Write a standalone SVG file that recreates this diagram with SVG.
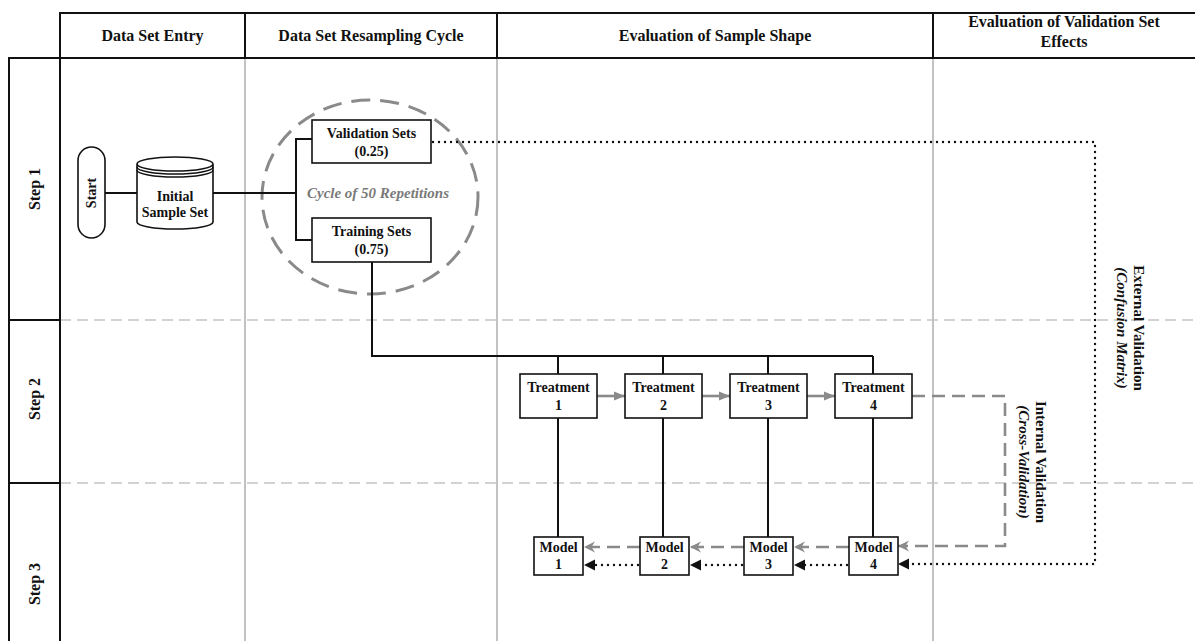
<svg xmlns="http://www.w3.org/2000/svg" width="1195" height="641" viewBox="0 0 1195 641">
<style>
.hdr{font-family:"Liberation Serif",serif;font-weight:bold;font-size:16px;text-anchor:middle;fill:#111}
.t{font-family:"Liberation Serif",serif;font-weight:bold;font-size:14px;text-anchor:middle;fill:#111}
.step{font-family:"Liberation Serif",serif;font-weight:bold;font-size:16px;text-anchor:middle;fill:#111}
.side{font-family:"Liberation Serif",serif;font-weight:bold;font-size:15px;text-anchor:middle;fill:#111}
.it{font-style:italic}
.box{fill:#fff;stroke:#111;stroke-width:1.6}
.frame{stroke:#111;stroke-width:2;fill:none}
.col{stroke:#b3b3b3;stroke-width:1.6}
.row{stroke:#c4c4c4;stroke-width:1.4;stroke-dasharray:11 6}
.line{stroke:#111;stroke-width:2;fill:none}
.garrow{stroke:#8a8a8a;stroke-width:2.6;fill:none}
.gdash{stroke:#8a8a8a;stroke-width:2.6;fill:none;stroke-dasharray:13 7}
.dot{stroke:#111;stroke-width:2.4;fill:none;stroke-dasharray:0 6;stroke-linecap:round}
</style>
<defs>
<marker id="gTri" markerUnits="userSpaceOnUse" markerWidth="12" markerHeight="10" refX="11" refY="5" orient="auto"><path d="M0,0.5 L11,5 L0,9.5 z" fill="#8a8a8a"/></marker>
<marker id="gOpen" markerUnits="userSpaceOnUse" markerWidth="12" markerHeight="12" refX="11" refY="6" orient="auto"><path d="M0,0.5 L11,6 L0,11.5 L3.5,6 z" fill="#8a8a8a"/></marker>
<marker id="bTri" markerUnits="userSpaceOnUse" markerWidth="12" markerHeight="12" refX="11" refY="6" orient="auto"><path d="M0,0.5 L11,6 L0,11.5 z" fill="#111"/></marker>
</defs>
<rect width="1195" height="641" fill="#fff"/>

<g id="grid">
<line class="col" x1="245" y1="58" x2="245" y2="641"/>
<line class="col" x1="497" y1="58" x2="497" y2="641"/>
<line class="col" x1="933" y1="58" x2="933" y2="641"/>
<line class="row" x1="60" y1="320" x2="1195" y2="320"/>
<line class="row" x1="60" y1="483" x2="1195" y2="483"/>
</g>

<g id="header">
<path class="frame" d="M1195,13 H60 V58 H1195 M245,13 V58 M497,13 V58 M933,13 V58"/>
<text class="hdr" x="152.5" y="41">Data Set Entry</text>
<text class="hdr" x="371" y="41">Data Set Resampling Cycle</text>
<text class="hdr" x="715" y="41">Evaluation of Sample Shape</text>
<text class="hdr" x="1064" y="27">Evaluation of Validation Set</text>
<text class="hdr" x="1064" y="47">Effects</text>
</g>

<g id="steps">
<path class="frame" d="M9,641 V58 H60 V641 M9,320 H60 M9,483 H60"/>
<text class="step" transform="translate(40,189) rotate(-90)">Step 1</text>
<text class="step" transform="translate(40,399) rotate(-90)">Step 2</text>
<text class="step" transform="translate(40,584) rotate(-90)">Step 3</text>
</g>

<g id="cycle">
<ellipse cx="370" cy="197" rx="108" ry="97" fill="none" stroke="#8a8a8a" stroke-width="3" stroke-dasharray="19 10"/>
<text class="t it" x="378" y="198" style="font-size:15px;fill:#7a7a7a">Cycle of 50 Repetitions</text>
</g>

<g id="connectors">
<line class="line" x1="105" y1="193" x2="137" y2="193"/>
<path class="line" d="M213,193 H296 M312,139 H296 V240 H312"/>
<path class="line" d="M372,262 V356 H873 M558,356 V374 M663,356 V374 M768,356 V374 M873,356 V374"/>
<path class="line" d="M558,418 V537 M663,418 V537 M768,418 V537 M873,418 V537"/>
<line class="garrow" x1="597" y1="396" x2="625" y2="396" marker-end="url(#gTri)"/>
<line class="garrow" x1="702" y1="396" x2="730" y2="396" marker-end="url(#gTri)"/>
<line class="garrow" x1="807" y1="396" x2="835" y2="396" marker-end="url(#gTri)"/>
<path class="gdash" d="M912,396 H1005 V546 H898" marker-end="url(#gOpen)"/>
<line class="gdash" x1="849" y1="547" x2="794" y2="547" marker-end="url(#gOpen)"/>
<line class="gdash" x1="744" y1="547" x2="690" y2="547" marker-end="url(#gOpen)"/>
<line class="gdash" x1="640" y1="547" x2="584" y2="547" marker-end="url(#gOpen)"/>
<path class="dot" d="M433,142 H1095 V564 H898" marker-end="url(#bTri)"/>
<line class="dot" x1="847" y1="565" x2="794" y2="565" marker-end="url(#bTri)"/>
<line class="dot" x1="742" y1="565" x2="690" y2="565" marker-end="url(#bTri)"/>
<line class="dot" x1="638" y1="565" x2="584" y2="565" marker-end="url(#bTri)"/>
</g>

<g id="start">
<rect class="box" x="78" y="147" width="27" height="91" rx="13.5"/>
<text class="t" transform="translate(96,193) rotate(-90)">Start</text>
</g>

<g id="initial">
<path class="box" d="M137,164 V222 A38,7 0 0 0 213,222 V164 A38,7 0 0 0 137,164 A38,7 0 0 0 213,164"/>
<path class="line" style="stroke-width:1.4" d="M137,167 A38,7 0 0 0 213,167 M137,170 A38,7 0 0 0 213,170"/>
<text class="t" x="175" y="201">Initial</text>
<text class="t" x="175" y="217">Sample Set</text>
</g>

<g id="validation">
<rect class="box" x="312" y="120" width="119" height="43"/>
<text class="t" x="371.5" y="138">Validation Sets</text>
<text class="t" x="371.5" y="156">(0.25)</text>
</g>
<g id="training">
<rect class="box" x="312" y="218" width="119" height="44"/>
<text class="t" x="371.5" y="236">Training Sets</text>
<text class="t" x="371.5" y="254">(0.75)</text>
</g>

<g id="treatment1"><rect class="box" x="520" y="374" width="77" height="44"/><text class="t" x="558.5" y="392">Treatment</text><text class="t" x="558.5" y="410">1</text></g>
<g id="treatment2"><rect class="box" x="625" y="374" width="77" height="44"/><text class="t" x="663.5" y="392">Treatment</text><text class="t" x="663.5" y="410">2</text></g>
<g id="treatment3"><rect class="box" x="730" y="374" width="77" height="44"/><text class="t" x="768.5" y="392">Treatment</text><text class="t" x="768.5" y="410">3</text></g>
<g id="treatment4"><rect class="box" x="835" y="374" width="77" height="44"/><text class="t" x="873.5" y="392">Treatment</text><text class="t" x="873.5" y="410">4</text></g>

<g id="model1"><rect class="box" x="534" y="537" width="49" height="38"/><text class="t" x="558.5" y="552">Model</text><text class="t" x="558.5" y="569">1</text></g>
<g id="model2"><rect class="box" x="640" y="537" width="49" height="38"/><text class="t" x="664.5" y="552">Model</text><text class="t" x="664.5" y="569">2</text></g>
<g id="model3"><rect class="box" x="744" y="537" width="49" height="38"/><text class="t" x="768.5" y="552">Model</text><text class="t" x="768.5" y="569">3</text></g>
<g id="model4"><rect class="box" x="849" y="537" width="49" height="38"/><text class="t" x="873.5" y="552">Model</text><text class="t" x="873.5" y="569">4</text></g>

<g id="labels">
<text class="side" transform="translate(1036,462) rotate(90)">Internal Validation</text>
<text class="side it" transform="translate(1019,462) rotate(90)">(Cross-Validation)</text>
<text class="side" transform="translate(1134,328) rotate(90)">External Validation</text>
<text class="side it" transform="translate(1117,328) rotate(90)">(Confusion Matrix)</text>
</g>
</svg>
